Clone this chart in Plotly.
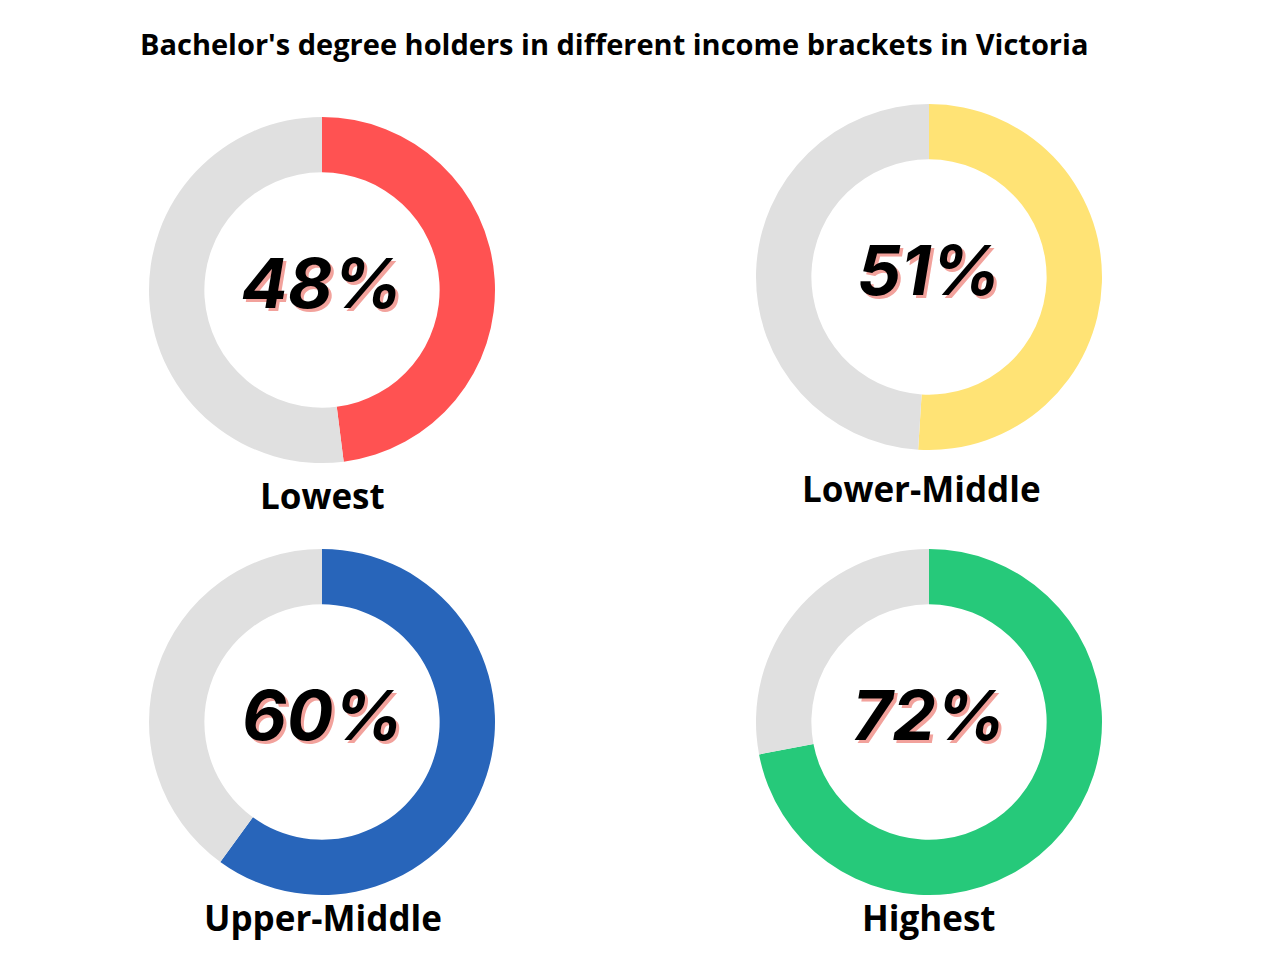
import plotly.graph_objects as go

categories = ["Lowest", "Lower-Middle", "Upper-Middle", "Highest"]
values = [48, 51, 60, 72]
colors = ["#FF5252", "#FFE375", "#2865BA", "#26C97A"]
grey = "#E0E0E0"

W, H = 1280, 960
# pixel centers of each donut, label positions
centers = [(322, 290), (929, 277), (322, 722), (929, 722)]
label_x = [322, 921, 323, 929]
label_y = [495, 488, 917, 917]
R = 173

fig = go.Figure()
for i, (cat, v) in enumerate(zip(categories, values)):
    cx, cy = centers[i]
    fig.add_trace(go.Pie(
        values=[v, 100 - v],
        labels=[cat, "Other"],
        marker=dict(colors=[colors[i], grey], line=dict(width=0)),
        hole=0.68,
        sort=False,
        direction="clockwise",
        rotation=0,
        textinfo="none",
        hoverinfo="skip",
        showlegend=False,
        domain=dict(x=[(cx - R) / W, (cx + R) / W], y=[1 - (cy + R) / H, 1 - (cy - R) / H]),
    ))
    ty = cy - 7
    fig.add_annotation(x=cx / W, y=1 - ty / H, xref="paper", yref="paper",
                       xanchor="center", yanchor="middle",
                       text=f"<b><i>{v}%</i></b>", showarrow=False,
                       font=dict(family="Inter", size=69, color="#000000", weight=900,
                                 shadow="3px 3px 0px #F2A29C"))
    fig.add_annotation(x=label_x[i] / W, y=1 - label_y[i] / H, xref="paper", yref="paper",
                       xanchor="center", yanchor="middle",
                       text=f"<b>{cat}</b>", showarrow=False,
                       font=dict(family="Open Sans", size=35, color="#000000"))

fig.add_annotation(x=614 / W, y=1 - 43 / H, xref="paper", yref="paper",
                   xanchor="center", yanchor="middle",
                   text="<b>Bachelor's degree holders in different income brackets in Victoria</b>",
                   showarrow=False, font=dict(family="Open Sans", size=29, color="#000000"))

fig.update_layout(width=W, height=H, margin=dict(l=0, r=0, t=0, b=0),
                  paper_bgcolor="white", plot_bgcolor="white")
fig.write_html("out.html", config={"displayModeBar": False},
               post_script="document.body.style.margin='0';")
